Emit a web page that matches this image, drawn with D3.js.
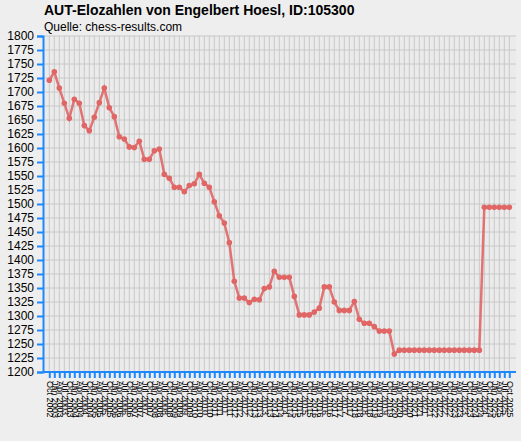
<!DOCTYPE html>
<html><head><meta charset="utf-8">
<script src="https://cdn.jsdelivr.net/npm/d3@7"></script>
<style>body{margin:0;background:#eeeeee;font-family:"Liberation Sans",Arial,sans-serif}</style>
</head><body><svg id="c" width="521" height="441"></svg>
<script>
const values = [1721,1736,1707,1680,1653,1687,1680,1640,1631,1655,1681,1707,1672,1656,1620,1616,1602,1601,1612,1580,1580,1595,1598,1553,1546,1530,1530,1522,1533,1536,1553,1537,1530,1504,1479,1466,1431,
1362,1332,1332,1324,1330,1329,1349,1352,1380,1369,1369,1369,1335,1302,1302,1302,1307,1314,1352,1352,1325,1310,1310,1310,1326,1294,1287,1287,1281,1273,1273,1273,1232,
1239,1239,1239,1239,1239,1239,1239,1239,1239,1239,1239,1239,1239,1239,1239,1239,1239,
1494,1494,1494,1494,1494,1494];
const months = ["Jan","Apr","Jul","Oct"];
const categories = values.map((v,i)=>{const q=3+i; return months[q%4]+" "+(2002+Math.floor(q/4));});
const yTicks = d3.range(1200,1801,25);

const svg = d3.select("#c");
const L=43,R=516,T=36,B=372;
const x = d3.scalePoint().domain(categories).range([49.3,509.3]);
const y = d3.scaleLinear().domain([1200,1800]).range([B,T]);

svg.append("text").attr("x",44).attr("y",15).attr("font-size",14).attr("font-weight","bold").text("AUT-Elozahlen von Engelbert Hoesl, ID:105300");
svg.append("text").attr("x",44).attr("y",31).attr("font-size",12).text("Quelle: chess-results.com");

svg.append("rect").attr("x",L).attr("y",T).attr("width",R-L).attr("height",B-T).attr("fill","#ebebeb");
const g=svg.append("g");
g.selectAll(".vg").data(categories).join("line").attr("x1",d=>x(d)).attr("x2",d=>x(d)).attr("y1",T).attr("y2",B).attr("stroke","#c8c8c8");
g.selectAll(".hg").data(yTicks).join("line").attr("x1",L).attr("x2",R).attr("y1",d=>y(d)).attr("y2",d=>y(d)).attr("stroke","#c8c8c8");

const ya = svg.append("g").attr("transform",`translate(${L},0)`).call(d3.axisLeft(y).tickValues(yTicks).tickSize(6).tickFormat(d3.format("d")));
ya.selectAll("text").attr("font-size",12).attr("fill","#000").attr("font-family","Liberation Sans, Arial");
ya.selectAll("line,path").attr("stroke","#1e88ff").attr("stroke-width",2);

const xa = svg.append("g").attr("transform",`translate(0,${B})`).call(d3.axisBottom(x).tickSize(6).tickSizeOuter(0));
xa.select("path").attr("d",`M${L},0H${R}`);
xa.selectAll("line,path").attr("stroke","#1e88ff").attr("stroke-width",2);
xa.selectAll("text").attr("font-size",9).attr("fill","#000").attr("font-family","Liberation Sans, Arial")
  .attr("transform","rotate(90)").attr("text-anchor","start").attr("x",9).attr("y",0).attr("dy","0.35em");

svg.append("path").datum(values).attr("fill","none").attr("stroke","#e06666").attr("stroke-width",2.5).attr("opacity",0.9)
  .attr("d",d3.line().x((d,i)=>x(categories[i])).y(d=>y(d)));
svg.selectAll(".pt").data(values).join("circle").attr("cx",(d,i)=>x(categories[i])).attr("cy",d=>y(d)).attr("r",2.8).attr("fill","#e06666");
</script></body></html>
